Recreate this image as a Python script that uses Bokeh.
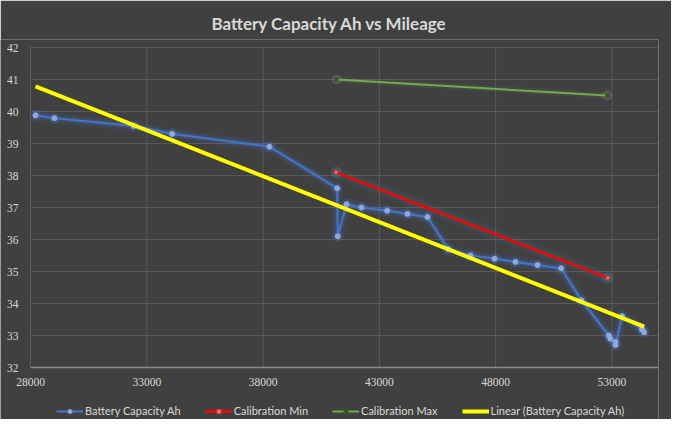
import numpy as np
from bokeh.plotting import figure
from bokeh.models import Legend, LegendItem, Range1d
from bokeh.embed import file_html
from bokeh.resources import INLINE

# ---- data ----
mileage = [28215, 29030, 32440, 34090, 38275, 41185, 41210, 41586, 42231, 43335,
           44209, 45069, 45958, 46917, 47949, 48852, 49798, 50816, 51685, 52865,
           52930, 53150, 53150, 53436, 54285, 54385]
capacity = [39.88, 39.79, 39.55, 39.3, 38.9, 37.6, 36.1, 37.1, 37.0, 36.9,
            36.8, 36.7, 35.7, 35.5, 35.4, 35.3, 35.2, 35.1, 34.1, 33.0,
            32.9, 32.8, 32.7, 33.6, 33.2, 33.1]
cal_min_x = [41140, 52817]
cal_min_y = [38.1, 34.8]
cal_max_x = [41160, 52800]
cal_max_y = [41.0, 40.5]
x_ticks = [28000, 33000, 38000, 43000, 48000, 53000]
x_tick_labels = ["28000", "33000", "38000", "43000", "48000", "53000"]
y_ticks = list(range(32, 43))
y_tick_labels = [str(v) for v in y_ticks]
X_MIN, X_MAX, Y_MIN, Y_MAX = 28000, 55000, 32, 42

# linear trendline (least squares of the blue series, as Excel does)
slope, intercept = np.polyfit(mileage, capacity, 1)
trend_x = [min(mileage), max(mileage)]
trend_y = [slope * v + intercept for v in trend_x]

BG = "#404040"
FONT = "Lato"
TXT = "#d9d9d9"
GRID = "#5a5a5a"

# plot area 628 x 320 px; the frame is widened 30 px to the left, 8 px upward
# and 52 px downward (tick labels and legend) so that no text gets clipped
FW, FH = 628, 320
x_per_px = (X_MAX - X_MIN) / FW
y_per_px = (Y_MAX - Y_MIN) / FH
x_lo = X_MIN - 30 * x_per_px
y_lo = Y_MIN - 52 * y_per_px
y_hi = Y_MAX + 8 * y_per_px

p = figure(frame_width=FW + 30, frame_height=FH + 60, output_backend="svg",
           toolbar_location=None,
           x_range=Range1d(x_lo, X_MAX), y_range=Range1d(y_lo, y_hi),
           title="Battery Capacity Ah vs Mileage",
           min_border_left=0, min_border_right=13, min_border_top=39,
           min_border_bottom=0)
p.background_fill_color = BG
p.border_fill_color = BG
p.outline_line_color = None
p.xaxis.visible = False
p.yaxis.visible = False
p.grid.visible = False

p.title.align = "center"
p.title.text_font = FONT
p.title.text_font_size = "17px"
p.title.text_font_style = "bold"
p.title.text_color = TXT
p.title.standoff = 12

# gridlines, axis line and tick labels
n_y = len(y_ticks) - 1
p.segment(x0=[X_MIN] * n_y, y0=y_ticks[1:], x1=[X_MAX] * n_y, y1=y_ticks[1:],
          line_color=GRID, line_width=1)
p.segment(x0=x_ticks, y0=[Y_MIN] * len(x_ticks), x1=x_ticks, y1=[Y_MAX] * len(x_ticks),
          line_color=GRID, line_width=1)
p.segment(x0=[X_MIN], y0=[Y_MIN], x1=[X_MAX], y1=[Y_MIN], line_color="#8c8c8c", line_width=1.5)
p.text(x=x_ticks, y=[Y_MIN] * len(x_ticks), text=x_tick_labels, y_offset=14,
       text_align="center", text_baseline="middle", text_color=TXT,
       text_font=FONT, text_font_size="11.5px")
p.text(x=[X_MIN] * len(y_ticks), y=y_ticks, text=y_tick_labels, x_offset=-12,
       text_align="right", text_baseline="middle", text_color=TXT,
       text_font=FONT, text_font_size="11.5px")

BLUE = "#4472C4"
# glows
p.line(cal_max_x, cal_max_y, line_color="#9a9a9a", line_width=6, line_alpha=0.08)
p.line(cal_min_x, cal_min_y, line_color="#3d8fb0", line_width=12, line_alpha=0.08)
p.line(cal_min_x, cal_min_y, line_color="#3d8fb0", line_width=6, line_alpha=0.12)
p.line(mileage, capacity, line_color=BLUE, line_width=11, line_alpha=0.10)
p.line(mileage, capacity, line_color=BLUE, line_width=6, line_alpha=0.18)
p.scatter(mileage, capacity, size=11, fill_color=BLUE, fill_alpha=0.3, line_color=None)
p.scatter(cal_min_x, cal_min_y, size=11, fill_color="#3d8fb0", fill_alpha=0.3, line_color=None)
p.scatter(cal_max_x, cal_max_y, size=10, fill_color="#b0b0b0", fill_alpha=0.2, line_color=None)

# series
g_line = p.line(cal_max_x, cal_max_y, line_color="#70AD47", line_width=2)
g_pts = p.scatter(cal_max_x, cal_max_y, size=3, marker="square", fill_color="#2f5a1e", line_color="#2f5a1e")
r_line = p.line(cal_min_x, cal_min_y, line_color="#FF0000", line_width=2.5)
r_pts = p.scatter(cal_min_x, cal_min_y, size=3, marker="square", fill_color="#ff8080", line_color="#ff3030")
b_line = p.line(mileage, capacity, line_color=BLUE, line_width=2.2)
b_pts = p.scatter(mileage, capacity, size=5, fill_color="#8fa9dc", line_color="#8fa9dc")
t_line = p.line(trend_x, trend_y, line_color="#FFFF00", line_width=4)

legend = Legend(items=[
    LegendItem(label="Battery Capacity Ah", renderers=[b_line, b_pts]),
    LegendItem(label="Calibration Min", renderers=[r_line, r_pts]),
    LegendItem(label="Calibration Max", renderers=[g_line, g_pts]),
    LegendItem(label="Linear (Battery Capacity Ah)", renderers=[t_line]),
], orientation="horizontal", location=(56, 2))
legend.background_fill_alpha = 0
legend.border_line_color = None
legend.label_text_font = FONT
legend.label_text_font_size = "11px"
legend.label_text_color = TXT
legend.label_height = 12
legend.glyph_width = 27
legend.glyph_height = 10
legend.label_standoff = 2
legend.spacing = 24
legend.margin = 0
legend.padding = 2
p.add_layout(legend, "center")

open("out.html", "w").write(file_html(p, INLINE))
